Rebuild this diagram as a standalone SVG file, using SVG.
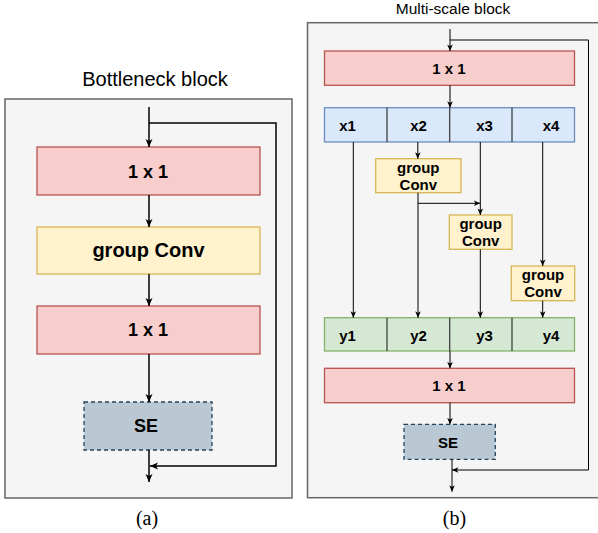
<svg xmlns="http://www.w3.org/2000/svg" width="598" height="533" viewBox="0 0 598 533">
<style>
.cont{fill:#f5f5f5;stroke:#666666;stroke-width:1.5}
.red{fill:#f8cecc;stroke:#b85450;stroke-width:1.3}
.yel{fill:#fff2cc;stroke:#d6b656;stroke-width:1.3}
.blu{fill:#dae8fc;stroke:#6c8ebf;stroke-width:1.3}
.grn{fill:#d5e8d4;stroke:#82b366;stroke-width:1.3}
.se{fill:#bac8d3;stroke:#23445d;stroke-width:1.3;stroke-dasharray:4 3}
.div{stroke:#333333;stroke-width:1.2;fill:none}
.t{font-family:"Liberation Sans",Arial,sans-serif;font-weight:bold;fill:#000;text-anchor:middle}
.title{font-family:"Liberation Sans",Arial,sans-serif;fill:#000;text-anchor:middle}
.cap{font-family:"Liberation Serif","Times New Roman",serif;fill:#000;text-anchor:middle;font-size:20px}
.la{stroke:#000;stroke-width:1.5;fill:none;marker-end:url(#ahL)}
.ra{stroke:#000;stroke-width:1;fill:none;marker-end:url(#ahR)}
</style>
<defs>
<marker id="ahL" markerUnits="userSpaceOnUse" markerWidth="10" markerHeight="10" viewBox="0 0 10 10" refX="9" refY="5" orient="auto">
<path d="M1,1.5 L9,5 L1,8.5 L3,5 z" fill="#000"/>
</marker>
<marker id="ahR" markerUnits="userSpaceOnUse" markerWidth="8" markerHeight="8" viewBox="0 0 10 10" refX="9" refY="5" orient="auto">
<path d="M1,1.5 L9,5 L1,8.5 L3,5 z" fill="#000"/>
</marker>
</defs>

<!-- Left panel -->
<g id="panel-a">
<text class="title" x="155" y="86" font-size="20">Bottleneck block</text>
<rect class="cont" x="5" y="99" width="287" height="399"/>
</g>
<g id="a-1x1-top">
<rect class="red" x="37" y="147" width="223" height="48"/>
<text class="t" x="148" y="177.5" font-size="18">1 x 1</text>
</g>
<g id="a-groupconv">
<rect class="yel" x="37" y="227" width="223" height="47"/>
<text class="t" x="148.5" y="257" font-size="20">group Conv</text>
</g>
<g id="a-1x1-bottom">
<rect class="red" x="37" y="306" width="223" height="48"/>
<text class="t" x="148" y="335.5" font-size="18">1 x 1</text>
</g>
<g id="a-se">
<rect class="se" x="84" y="402" width="128" height="48"/>
<text class="t" x="146" y="432" font-size="18">SE</text>
</g>
<g id="a-connectors">
<line class="la" x1="149" y1="107" x2="149" y2="147"/>
<polyline class="la" points="149,123 276,123 276,466 150,466"/>
<line class="la" x1="149" y1="195" x2="149" y2="227"/>
<line class="la" x1="149" y1="274" x2="149" y2="306"/>
<line class="la" x1="149" y1="354" x2="149" y2="402"/>
<line class="la" x1="149" y1="450" x2="149" y2="482"/>
</g>
<text class="cap" x="147" y="525">(a)</text>

<!-- Right panel -->
<g id="panel-b">
<text class="title" x="453" y="14" font-size="15.5">Multi-scale block</text>
<rect class="cont" x="307.5" y="22.7" width="300" height="475"/>
</g>
<g id="b-1x1-top">
<rect class="red" x="324.5" y="51" width="250" height="34.3"/>
<text class="t" x="449" y="74" font-size="15">1 x 1</text>
</g>
<g id="b-x-row">
<rect class="blu" x="324.5" y="107.7" width="250" height="34.3"/>
<line class="div" x1="387" y1="107.7" x2="387" y2="142"/>
<line class="div" x1="449.7" y1="107.7" x2="449.7" y2="142"/>
<line class="div" x1="512" y1="107.7" x2="512" y2="142"/>
<text class="t" x="347.5" y="131" font-size="15">x1</text>
<text class="t" x="418.5" y="131" font-size="15">x2</text>
<text class="t" x="484.5" y="131" font-size="15">x3</text>
<text class="t" x="551" y="131" font-size="15">x4</text>
</g>
<g id="b-gc1">
<rect class="yel" x="375.7" y="158.7" width="85.3" height="34"/>
<text class="t" x="418.3" y="172.7" font-size="15">group</text>
<text class="t" x="418.3" y="190" font-size="15">Conv</text>
</g>
<g id="b-gc2">
<rect class="yel" x="449.3" y="215" width="62.7" height="34.3"/>
<text class="t" x="480.7" y="229" font-size="15">group</text>
<text class="t" x="480.7" y="246.3" font-size="15">Conv</text>
</g>
<g id="b-gc3">
<rect class="yel" x="511.3" y="266" width="63.4" height="34.7"/>
<text class="t" x="543" y="280" font-size="15">group</text>
<text class="t" x="543" y="297.3" font-size="15">Conv</text>
</g>
<g id="b-y-row">
<rect class="grn" x="324.5" y="317.7" width="250" height="33.3"/>
<line class="div" x1="387" y1="317.7" x2="387" y2="351"/>
<line class="div" x1="449.7" y1="317.7" x2="449.7" y2="351"/>
<line class="div" x1="512" y1="317.7" x2="512" y2="351"/>
<text class="t" x="347.5" y="341" font-size="15">y1</text>
<text class="t" x="418.5" y="341" font-size="15">y2</text>
<text class="t" x="484.5" y="341" font-size="15">y3</text>
<text class="t" x="551" y="341" font-size="15">y4</text>
</g>
<g id="b-1x1-bottom">
<rect class="red" x="324.5" y="368.3" width="250" height="34.4"/>
<text class="t" x="449" y="390.7" font-size="15">1 x 1</text>
</g>
<g id="b-se">
<rect class="se" x="404" y="424.3" width="91.3" height="35"/>
<text class="t" x="448" y="447.7" font-size="15">SE</text>
</g>
<g id="b-connectors">
<line class="ra" x1="450" y1="29" x2="450" y2="51"/>
<polyline class="ra" points="450,40 588.5,40 588.5,470 452,470"/>
<line class="ra" x1="450" y1="85.3" x2="450" y2="107.7"/>
<line class="ra" x1="353.3" y1="142" x2="353.3" y2="317.7"/>
<line class="ra" x1="417.8" y1="142" x2="417.8" y2="158.7"/>
<line class="ra" x1="418" y1="192.7" x2="418" y2="317.7"/>
<line class="ra" x1="418" y1="203.3" x2="480.3" y2="203.3"/>
<line class="ra" x1="480.3" y1="142" x2="480.3" y2="215"/>
<line class="ra" x1="480.3" y1="249.3" x2="480.3" y2="317.7"/>
<line class="ra" x1="542.7" y1="142" x2="542.7" y2="266"/>
<line class="ra" x1="542.7" y1="300.7" x2="542.7" y2="317.7"/>
<line class="ra" x1="450" y1="351" x2="450" y2="368.3"/>
<line class="ra" x1="450" y1="402.7" x2="450" y2="424.3"/>
<line class="ra" x1="452" y1="459.3" x2="452" y2="491.7"/>
</g>
<text class="cap" x="454.5" y="525">(b)</text>
</svg>
